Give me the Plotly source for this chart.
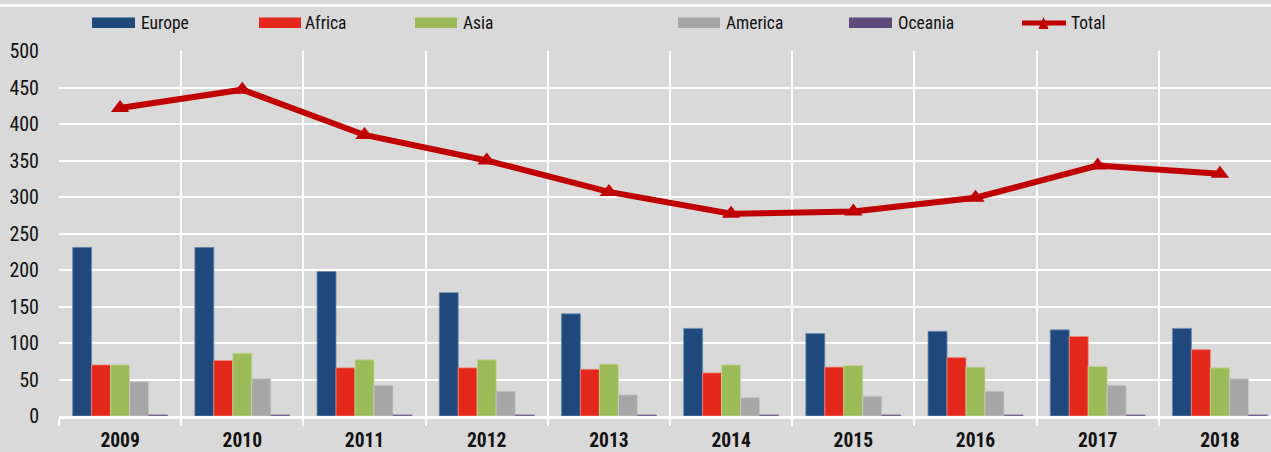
import plotly.graph_objects as go

years = ["2009", "2010", "2011", "2012", "2013", "2014", "2015", "2016", "2017", "2018"]
europe = [231, 231, 198, 169, 140, 120, 113, 116, 118, 120]
africa = [70, 76, 66, 66, 64, 59, 67, 80, 109, 91]
asia = [70, 86, 77, 77, 71, 70, 69, 67, 68, 66]
america = [47, 51, 42, 34, 29, 25, 27, 34, 42, 51]
oceania = [1.5, 1.5, 1.5, 1.5, 1.5, 1.5, 1.5, 1.5, 1.5, 1.5]
total = [422, 447, 385, 350, 307, 277, 280, 299, 343, 332]

series = [
    ("Europe", europe, "#1f497d", "#6f8db5"),
    ("Africa", africa, "#e4271b", "#f08a82"),
    ("Asia", asia, "#9bbb59", "#c3d89a"),
    ("America", america, "#a6a6a6", "#c8c8c8"),
    ("Oceania", oceania, "#604a7b", "#8d7aa5"),
]
TOTAL_COLOR = "#c00000"
BG = "#d9d9d9"
FONT = "Roboto Condensed, Liberation Sans, Arial, sans-serif"

W, H = 1271, 452
L, T, B = 59, 51, 36
PW = W - L
PH = H - T - B
CAT_W = 122.2

def px_x(px):
    return (px - L) / PW

def px_y(py):
    return (H - B - py) / PH

fig = go.Figure()
for name, vals, col, edge in series:
    fig.add_trace(go.Bar(x=years, y=vals, name=name, marker_color=col,
                         marker_line=dict(color=edge, width=0.8), showlegend=False))
fig.add_trace(go.Scatter(x=years, y=total, name="Total", mode="lines+markers",
                         line=dict(color=TOTAL_COLOR, width=6),
                         marker=dict(symbol="triangle-up", size=16, color=TOTAL_COLOR),
                         showlegend=False))

shapes = []
annotations = []
shapes.append(dict(type="line", xref="paper", yref="paper",
                   x0=px_x(0), x1=px_x(W), y0=px_y(5.5), y1=px_y(5.5),
                   line=dict(color="white", width=2.5)))
legend_items = [
    ("Europe", "#1f497d", 92, 135, 139),
    ("Africa", "#e4271b", 259, 301, 303),
    ("Asia", "#9bbb59", 415, 457, 461),
    ("America", "#a6a6a6", 678, 720, 724),
    ("Oceania", "#604a7b", 849, 892, 896),
]
LEG_FONT = dict(family=FONT, size=17.5, color="#111111")
for name, col, x0, x1, tx in legend_items:
    shapes.append(dict(type="rect", xref="paper", yref="paper",
                       x0=px_x(x0), x1=px_x(x1), y0=px_y(28), y1=px_y(17.5),
                       fillcolor=col, line=dict(width=0)))
    annotations.append(dict(text=name, xref="paper", yref="paper", x=px_x(tx), y=px_y(23),
                            xanchor="left", yanchor="middle", showarrow=False,
                            font=LEG_FONT))
shapes.append(dict(type="line", xref="paper", yref="paper",
                   x0=px_x(1022), x1=px_x(1066), y0=px_y(23), y1=px_y(23),
                   line=dict(color=TOTAL_COLOR, width=5)))
cx, cy = px_x(1043.5), px_y(23)
dx, dy = 5 / PW, 6 / PH
shapes.append(dict(type="path", xref="paper", yref="paper",
                   path=f"M {cx - dx},{cy - dy} L {cx + dx},{cy - dy} L {cx},{cy + dy} Z",
                   fillcolor=TOTAL_COLOR, line=dict(width=0)))
annotations.append(dict(text="Total", xref="paper", yref="paper", x=px_x(1069), y=px_y(23),
                        xanchor="left", yanchor="middle", showarrow=False,
                        font=LEG_FONT))

fig.update_layout(
    width=W, height=H,
    margin=dict(l=L, r=0, t=T, b=B, pad=0),
    paper_bgcolor=BG, plot_bgcolor=BG,
    barmode="group", bargap=0.223, bargroupgap=0,
    font=dict(family=FONT, color="#111111"),
    shapes=shapes, annotations=annotations,
    xaxis=dict(type="category", range=[-0.5, -0.5 + PW / CAT_W],
               tickson="boundaries", ticks="outside", ticklen=7, tickcolor="white", tickwidth=2,
               showgrid=True, gridcolor="white", gridwidth=2,
               showline=True, linecolor="white", linewidth=2.5,
               tickfont=dict(family=FONT, size=19.5, color="#111111", weight="bold"),
               ticklabelstandoff=5),
    yaxis=dict(range=[0, 500], dtick=50, showgrid=True, gridcolor="white", gridwidth=2,
               zeroline=False, ticks="", showline=False,
               tickfont=dict(family=FONT, size=20, color="#111111"),
               ticklabelstandoff=19),
)

fig.write_html("out.html", config={"displayModeBar": False},
               post_script="document.body.style.margin='0';document.body.style.overflow='hidden';")
